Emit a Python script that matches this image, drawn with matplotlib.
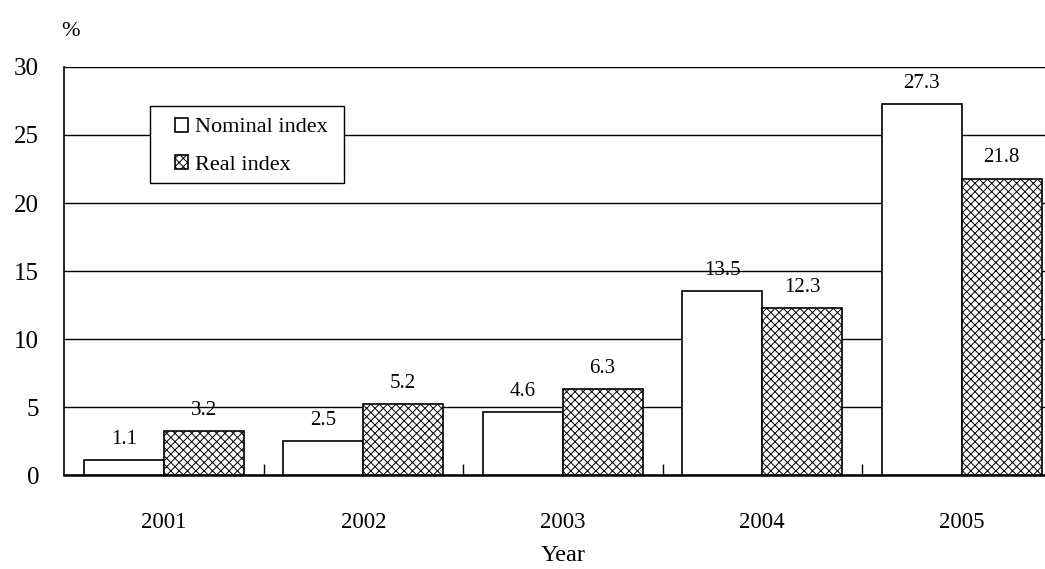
import numpy as np
import matplotlib
matplotlib.use('Agg')
import matplotlib.pyplot as plt
from matplotlib.patches import Rectangle

plt.rcParams['font.family'] = ['Liberation Serif', 'DejaVu Serif']
plt.rcParams['hatch.linewidth'] = 0.7
plt.rcParams['hatch.color'] = '#333333'

years = ['2001', '2002', '2003', '2004', '2005']
nominal = [1.1, 2.5, 4.6, 13.5, 27.3]
real = [3.2, 5.2, 6.3, 12.3, 21.8]

fig = plt.figure(figsize=(10.45, 5.69), dpi=100)
# axes runs slightly past the right edge, like the original
ax = fig.add_axes([64 / 1045, 94 / 569, 997.5 / 1045, 408 / 569])

x = np.arange(len(years))
w = 0.40
b1 = ax.bar(x - w / 2, nominal, w, color='white', edgecolor='black', linewidth=1.2,
            label='Nominal index', zorder=3)
b2 = ax.bar(x + w / 2, real, w, color='white', edgecolor='black', linewidth=1.2,
            hatch='xxxx', label='Real index', zorder=3)

for bars, vals in ((b1, nominal), (b2, real)):
    for r, v in zip(bars, vals):
        ax.annotate(f'{v}', (r.get_x() + r.get_width() / 2, v), xytext=(0, 8),
                    textcoords='offset points', ha='center', va='bottom', fontsize=15)

ax.set_xlim(-0.5, len(years) - 0.5)
ax.set_ylim(0, 30)
ax.set_yticks(range(0, 31, 5))
ax.yaxis.grid(True, color='black', linewidth=1.0, zorder=0)
ax.set_axisbelow(True)

ax.set_xticks(x)
ax.set_xticklabels(years, fontsize=16.5)
ax.tick_params(axis='x', length=0, pad=27)
ax.set_xticks(np.arange(0.5, len(years) - 0.5, 1), minor=True)
ax.tick_params(axis='x', which='minor', direction='in', length=8, width=1)
ax.tick_params(axis='y', length=0, labelsize=18, pad=18)

for s in ['top', 'right']:
    ax.spines[s].set_visible(False)
ax.spines['left'].set_linewidth(1.2)
ax.spines['bottom'].set_linewidth(1.8)

ax.set_xlabel('Year', fontsize=17.5, labelpad=8)
fig.text(70 / 1045, 1 - 31 / 569, '%', fontsize=16, ha='center', va='center')

# legend box drawn by hand so the padding matches
box = Rectangle((0.0862, 0.7157), 0.1947, 0.1887, transform=ax.transAxes,
                facecolor='white', edgecolor='black', linewidth=1.0, zorder=4)
ax.add_patch(box)
leg = ax.legend(loc='upper left', bbox_to_anchor=(0.1113, 0.876), fontsize=16,
                frameon=False, handlelength=0.6, handleheight=0.6, handletextpad=0.3,
                borderpad=0, labelspacing=0.8, borderaxespad=0)
leg.set_zorder(5)

fig.savefig('out.png', dpi=100)
